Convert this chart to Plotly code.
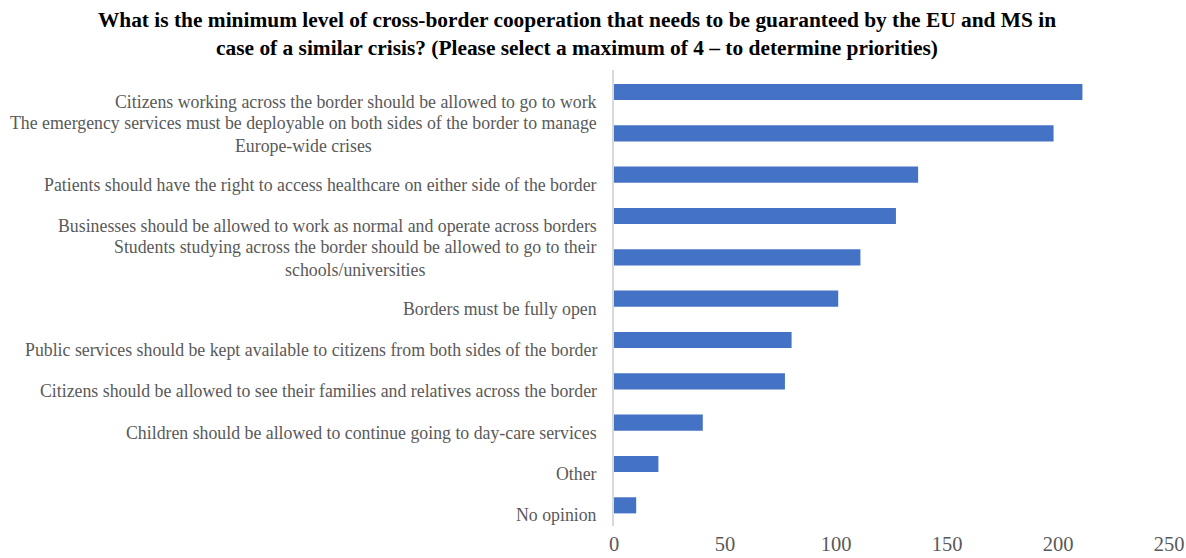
import plotly.graph_objects as go

# Survey answers, top to bottom
categories = [
    "Citizens working across the border should be allowed to go to work",
    "The emergency services must be deployable on both sides of the border to manage<br>Europe-wide crises",
    "Patients should have the right to access healthcare on either side of the border",
    "Businesses should be allowed to work as normal and operate across borders",
    "Students studying across the border should be allowed to go to their<br>schools/universities",
    "Borders must be fully open",
    "Public services should be kept available to citizens from both sides of the border",
    "Citizens should be allowed to see their families and relatives across the border",
    "Children should be allowed to continue going to day-care services",
    "Other",
    "No opinion",
]
responses = [211, 198, 137, 127, 111, 101, 80, 77, 40, 20, 10]
x_ticks = [0, 50, 100, 150, 200, 250]

title_text = ("What is the minimum level of cross-border cooperation that needs to be guaranteed by the EU and MS in"
              "<br>case of a similar crisis? (Please select a maximum of 4 \u2013 to determine priorities)")

SERIF = "Liberation Serif, Times New Roman, serif"
TEXT_GREY = "#595959"

fig = go.Figure(
    go.Bar(
        x=responses,
        y=categories,
        orientation="h",
        marker=dict(color="#4472C4", line=dict(width=0)),
        width=0.39,
    )
)

# Category labels: right-aligned block, lines centred on each other
annotations = []
for cat in categories:
    single = "<br>" not in cat
    annotations.append(dict(
        x=0, xref="paper", xanchor="right", xshift=-15,
        y=cat, yref="y", yanchor="middle", yshift=-10 if single else -1,
        text=cat, showarrow=False, align="center",
        font=dict(family=SERIF, size=17.8, color=TEXT_GREY),
    ))

fig.update_layout(
    width=1186, height=558,
    margin=dict(l=614, r=17, t=70, b=32, autoexpand=False),
    paper_bgcolor="white", plot_bgcolor="white",
    showlegend=False,
    title=dict(
        text=title_text, x=577 / 1186, xanchor="center", xref="container",
        y=1 - 27 / 558, yanchor="middle", yref="container",
        font=dict(family=SERIF, size=21.4, color="black", weight="bold"),
    ),
    annotations=annotations,
    xaxis=dict(
        range=[0, 250], tickvals=x_ticks, showgrid=False, zeroline=False,
        showline=False, ticks="", ticklabelstandoff=3, automargin=False,
        tickfont=dict(family=SERIF, size=20.5, color=TEXT_GREY),
    ),
    yaxis=dict(
        autorange="reversed", showticklabels=False, showgrid=False,
        zeroline=False, showline=True, linecolor="#D9D9D9", linewidth=2,
        ticks="", automargin=False,
    ),
    bargap=0.61,
)

fig.write_html("out.html")
